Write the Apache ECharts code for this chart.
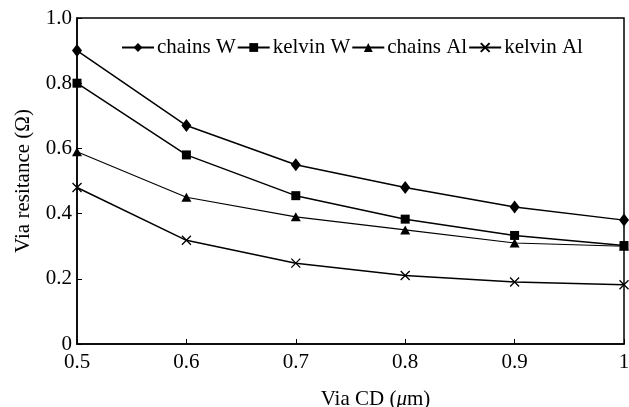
<!DOCTYPE html>
<html>
<head>
<meta charset="utf-8">
<script src="https://cdn.jsdelivr.net/npm/echarts@6/dist/echarts.min.js"></script>
<style>
  html, body { margin: 0; padding: 0; background: #fff; }
  #chart { width: 629px; height: 407px; }
</style>
</head>
<body>
<div id="chart"></div>
<script>
const viaCD = ['0.5', '0.6', '0.7', '0.8', '0.9', '1'];
const chainsW = [0.90, 0.67, 0.55, 0.48, 0.42, 0.38];
const kelvinW = [0.80, 0.58, 0.455, 0.383, 0.333, 0.302];
const chainsAl = [0.59, 0.45, 0.39, 0.35, 0.31, 0.30];
const kelvinAl = [0.48, 0.318, 0.248, 0.21, 0.19, 0.182];

const font = 'Liberation Serif';
const crossPath = 'path://M0,0L10,10M10,0L0,10';

let myChart = echarts.init(document.getElementById('chart'));
let option = {
  animation: false,
  textStyle: { fontFamily: font, color: '#000' },
  grid: {
    left: 77, right: 5, top: 18, bottom: 63,
    outerBoundsMode: 'none',
    containLabel: false,
    show: true, borderColor: '#000', borderWidth: 1.5
  },
  legend: {
    left: 116, top: 32,
    itemWidth: 32, itemHeight: 11, itemGap: 1,
    textStyle: { fontFamily: font, fontSize: 21, color: '#000', padding: [0, 0, 0, -2] },
    data: ['chains W', 'kelvin W', 'chains Al', 'kelvin Al']
  },
  xAxis: {
    type: 'category',
    data: viaCD,
    boundaryGap: false,
    name: 'Via CD ({i|μ}m)',
    nameLocation: 'middle',
    nameGap: 45,
    nameTextStyle: {
      fontFamily: font, fontSize: 21, color: '#000', padding: [0, 0, 0, 50],
      rich: { i: { fontFamily: font, fontSize: 21, fontStyle: 'italic', color: '#000' } }
    },
    axisLine: { lineStyle: { color: '#000', width: 1.5 } },
    axisTick: { inside: true, length: 5, alignWithLabel: true, lineStyle: { color: '#000' } },
    axisLabel: { fontFamily: font, fontSize: 21, color: '#000', margin: 8 },
    splitLine: { show: false }
  },
  yAxis: {
    type: 'value',
    min: 0, max: 1, interval: 0.2,
    name: 'Via resitance (Ω)',
    nameLocation: 'middle',
    nameGap: 43,
    nameTextStyle: { fontFamily: font, fontSize: 21, color: '#000' },
    axisLine: { show: true, lineStyle: { color: '#000', width: 1.5 } },
    axisTick: { show: true, inside: true, length: 5, lineStyle: { color: '#000' } },
    axisLabel: {
      fontFamily: font, fontSize: 21, color: '#000', margin: 5,
      formatter: v => (v === 0 ? '0' : v.toFixed(1))
    },
    splitLine: { show: false }
  },
  series: [
    {
      name: 'chains W', type: 'line', data: chainsW,
      symbol: 'diamond', symbolSize: [10, 13],
      itemStyle: { color: '#000' }, lineStyle: { color: '#000', width: 1.5 }
    },
    {
      name: 'kelvin W', type: 'line', data: kelvinW,
      symbol: 'rect', symbolSize: 9,
      itemStyle: { color: '#000' }, lineStyle: { color: '#000', width: 1.5 }
    },
    {
      name: 'chains Al', type: 'line', data: chainsAl,
      symbol: 'triangle', symbolSize: [10, 9],
      itemStyle: { color: '#000' }, lineStyle: { color: '#000', width: 1.1 }
    },
    {
      name: 'kelvin Al', type: 'line', data: kelvinAl,
      symbol: crossPath, symbolSize: 9,
      itemStyle: { color: '#000', borderColor: '#000', borderWidth: 1.3 },
      lineStyle: { color: '#000', width: 1.5 }
    }
  ]
};

option && myChart.setOption(option);
</script>
</body>
</html>
